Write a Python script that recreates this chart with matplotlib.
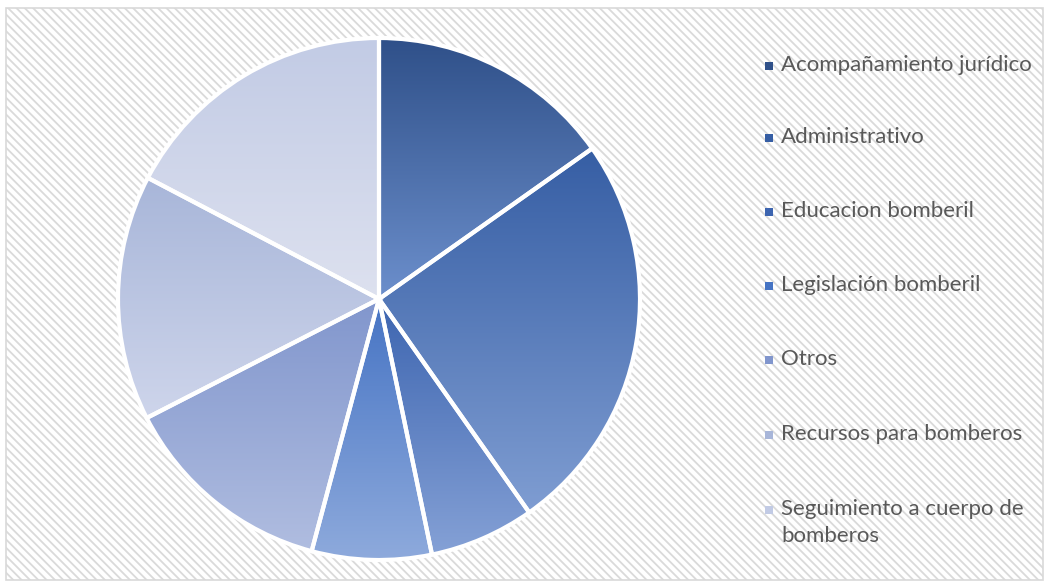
import numpy as np
import matplotlib.pyplot as plt
from matplotlib.patches import Rectangle
from matplotlib.colors import LinearSegmentedColormap

plt.rcParams['font.family'] = ['Lato', 'DejaVu Sans']
plt.rcParams['hatch.color'] = '#dadada'
plt.rcParams['hatch.linewidth'] = 1.3

categories = ['Acompañamiento jurídico', 'Administrativo', 'Educacion bomberil',
              'Legislación bomberil', 'Otros', 'Recursos para bomberos',
              'Seguimiento a cuerpo de bomberos']
values = [15.2, 25.0, 6.5, 7.4, 13.3, 15.2, 17.3]

# top / bottom colour of each slice's vertical gradient
tops = ['#2f5089', '#365ea4', '#3d65b0', '#4674c4', '#8196cd', '#a8b6d9', '#c2cbe5']
bottoms = ['#6c8fcc', '#7f9dd2', '#85a1d6', '#8eaadc', '#b0bde0', '#ced5eb', '#dde1ef']

W, H = 1048, 586
fig = plt.figure(figsize=(W / 100, H / 100), dpi=100)
fig.patch.set_facecolor('white')

# hatched chart area with thin grey border
bg = fig.add_axes([0, 0, 1, 1])
bg.set_xlim(0, W)
bg.set_ylim(H, 0)
bg.axis('off')
bg.add_patch(Rectangle((6, 8), 1037, 572, facecolor='white', edgecolor='#dadada',
                       lw=0, hatch='\\\\\\\\'))
bg.add_patch(Rectangle((6, 8), 1037, 572, facecolor='none', edgecolor='#d9d9d9', lw=1.2))

cx, cy, r = 379, 299, 261
ax = fig.add_axes([(cx - r) / W, (H - cy - r) / H, 2 * r / W, 2 * r / H])
wedges, _ = ax.pie(values, startangle=90, counterclock=False, radius=1,
                   wedgeprops=dict(facecolor='none', edgecolor='white', linewidth=3))
ax.axis('off')

for w, t, b in zip(wedges, tops, bottoms):
    ext = w.get_path().get_extents(w.get_patch_transform())
    cmap = LinearSegmentedColormap.from_list('g', [b, t])
    grad = np.linspace(0, 1, 256).reshape(-1, 1)
    im = ax.imshow(grad, cmap=cmap, origin='lower', aspect='auto',
                   extent=[ext.x0, ext.x1, ext.y0, ext.y1], zorder=1)
    im.set_clip_path(w)
    w.set_zorder(2)
ax.set_xlim(-1, 1)
ax.set_ylim(-1, 1)

# legend
ys = [66, 138, 212, 286, 360, 435, 510]
labels = categories[:-1] + ['Seguimiento a cuerpo de\nbomberos']
for y, lab, t, b in zip(ys, labels, tops, bottoms):
    bg.add_patch(Rectangle((765, y - 4), 8, 8, facecolor=t, edgecolor='none'))
    bg.text(781, y - 11, lab, fontsize=16, color='#595959', va='top', ha='left',
            linespacing=1.45)

fig.savefig('out.png', dpi=100)
